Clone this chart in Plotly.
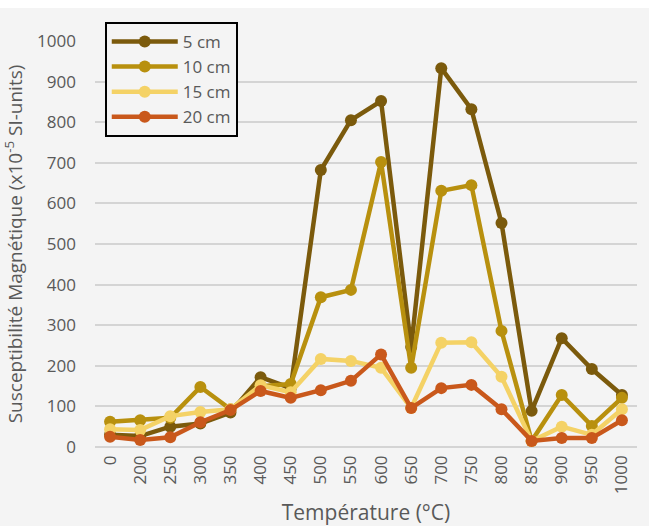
import plotly.graph_objects as go

temperatures = ["0", "200", "250", "300", "350", "400", "450", "500", "550", "600",
                "650", "700", "750", "800", "850", "900", "950", "1000"]
s5 = [30, 27, 50, 58, 85, 172, 145, 682, 805, 852, 246, 933, 832, 552, 89, 268, 192, 128]
s10 = [62, 66, 72, 148, 93, 150, 155, 369, 387, 702, 195, 631, 645, 286, 15, 128, 52, 121]
s15 = [44, 42, 76, 86, 93, 152, 135, 217, 212, 195, 96, 257, 258, 173, 15, 50, 30, 93]
s20 = [25, 17, 24, 61, 91, 138, 121, 140, 163, 228, 96, 145, 153, 93, 15, 22, 22, 66]
names = ["5 cm", "10 cm", "15 cm", "20 cm"]
colors = ["#7b5a0c", "#b8900e", "#f4d266", "#c9581b"]

fig = go.Figure()
for name, vals, col in zip(names, [s5, s10, s15, s20], colors):
    fig.add_trace(go.Scatter(
        x=temperatures, y=vals, name=name, mode="lines+markers",
        line=dict(color=col, width=4.5), marker=dict(color=col, size=12),
        cliponaxis=False,
    ))

font = "Open Sans, DejaVu Sans, sans-serif"
fig.update_layout(
    width=649, height=526,
    margin=dict(l=95, r=12, t=41, b=79),
    paper_bgcolor="#f4f4f4", plot_bgcolor="#f4f4f4",
    font=dict(family=font, color="#595959", size=17),
    showlegend=True,
    legend=dict(x=0.018, y=1.047, xanchor="left", yanchor="top",
                bgcolor="#f4f4f4", bordercolor="#000000", borderwidth=2,
                font=dict(size=17, color="#595959"), itemwidth=66,
                entrywidth=150, entrywidthmode="pixels",
                tracegroupgap=0),
    xaxis=dict(type="category", tickangle=-90, showgrid=False, automargin=False,
               range=[-0.5, len(temperatures) - 0.5], ticklabelstandoff=4,
               tickfont=dict(size=17, color="#595959"),
               title=dict(text="Température (°C)", font=dict(size=21, color="#595959")),
               showline=False, ticks=""),
    yaxis=dict(range=[0, 1000], dtick=100, showgrid=True, gridcolor="#d4d4d4", gridwidth=1.5,
               zeroline=True, zerolinecolor="#d4d4d4", zerolinewidth=1.5, automargin=False,
               ticklabelstandoff=18,
               tickfont=dict(size=17, color="#595959"),
               title=dict(text="Susceptibilité Magnétique (x10<sup>-5</sup> SI-units)",
                          font=dict(size=19, color="#595959")),
               ticks=""),
    shapes=[dict(type="rect", xref="paper", yref="paper", x0=-0.3, x1=1.1,
                 y0=1.0 + 33 / 406, y1=1.2, fillcolor="white", line=dict(width=0), layer="below")],
)
fig.write_html("out.html", config={"displayModeBar": False},
               post_script="document.body.style.margin='0';document.body.style.overflow='hidden';")
